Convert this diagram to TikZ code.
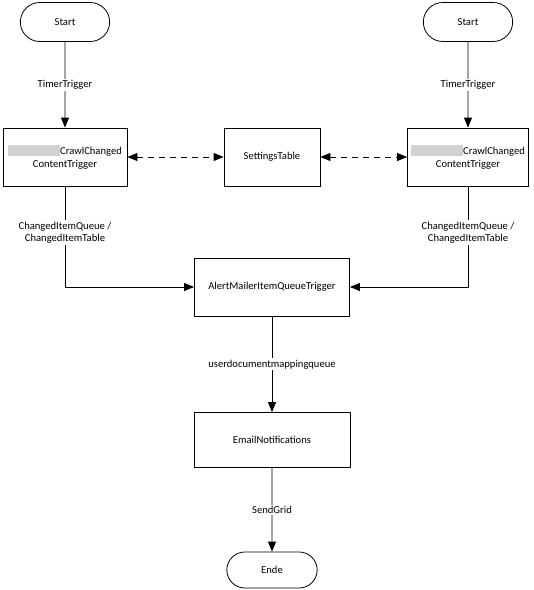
\documentclass[tikz,border=0pt]{standalone}
\usepackage{fontspec}
\setmainfont{Carlito}
\usetikzlibrary{arrows.meta,shapes.misc}

\newcommand{\greyedname}{{\color{black!18}\rule[-2pt]{52pt}{11pt}}}

\tikzset{
    box/.style={draw, rectangle, line width=0.8pt, minimum height=58pt, align=center, font=\fontsize{10.6}{13}\selectfont},
    term/.style={draw, rounded rectangle, line width=0.8pt, minimum width=96pt, minimum height=39pt, font=\fontsize{10.6}{12}\selectfont},
    flow/.style={line width=0.8pt, -{Triangle[length=10pt,width=8pt]}},
    dflow/.style={line width=0.8pt, {Triangle[length=10pt,width=8pt]}-{Triangle[length=10pt,width=8pt]}, dash pattern=on 6pt off 5pt},
    lbl/.style={fill=white, inner sep=1.5pt, align=center, font=\fontsize{10.6}{12.5}\selectfont}
}

\begin{document}
\begin{tikzpicture}[x=1pt,y=-1pt]
        \useasboundingbox (0,0) rectangle (534,590);
        \node[term] (startL) at (65,22) {Start};
        \node[term] (startR) at (468,22) {Start};
        \node[box, minimum width=124pt] (crawlL) at (65,157) {\greyedname CrawlChanged\\ContentTrigger};
        \node[box, minimum width=96pt] (settings) at (272,157) {SettingsTable};
        \node[box, minimum width=121pt] (crawlR) at (468,157) {\greyedname CrawlChanged\\ContentTrigger};
        \node[box, minimum width=155pt] (alert) at (272,287) {AlertMailerItemQueueTrigger};
        \node[box, minimum width=156pt, minimum height=55pt] (email) at (272,440) {EmailNotifications};
        \node[term, minimum width=97pt, minimum height=36pt] (ende) at (272,570) {Ende};
        \draw[flow] (startL) -- node[lbl] {TimerTrigger} (crawlL);
        \draw[flow] (startR) -- node[lbl] {TimerTrigger} (crawlR);
        \draw[dflow] (crawlL) -- (settings);
        \draw[dflow] (settings) -- (crawlR);
        \draw[flow] (crawlL) |- node[lbl, pos=0.23] {ChangedItemQueue /\\ChangedItemTable} (alert);
        \draw[flow] (crawlR) |- node[lbl, pos=0.23] {ChangedItemQueue /\\ChangedItemTable} (alert);
        \draw[flow] (alert) -- node[lbl] {userdocumentmappingqueue} (email);
        \draw[flow] (email) -- node[lbl] {SendGrid} (ende);
\end{tikzpicture}
\end{document}
